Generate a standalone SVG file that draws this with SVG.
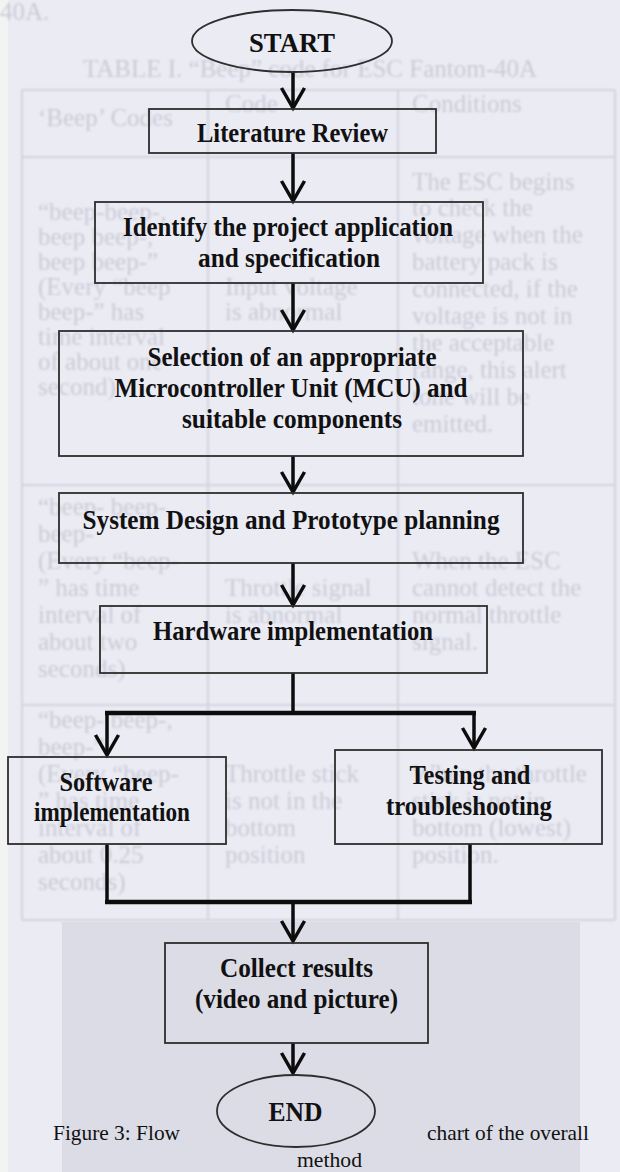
<svg xmlns="http://www.w3.org/2000/svg" width="620" height="1172" viewBox="0 0 620 1172">
  <style>
    .ghost { font-family: "Liberation Serif", "Times New Roman", serif; font-size: 25px; fill: #cbcbd7; }
    .grid { stroke: #d3d3de; stroke-width: 2; fill: none; }
    .box { fill: none; stroke: #2e2e2e; stroke-width: 1.8; }
    .lbl { font-family: "Liberation Serif", "Times New Roman", serif; font-size: 27px; font-weight: bold; fill: #111; text-anchor: middle; }
    .cap { font-family: "Liberation Serif", "Times New Roman", serif; font-size: 22px; fill: #111; }
    .wire { fill: none; stroke: #0c0c0c; stroke-width: 3.5; }
    .bar { fill: none; stroke: #0c0c0c; stroke-width: 4.5; }
  </style>
  <defs>
    <marker id="chev" viewBox="-24 -14 28 28" refX="0" refY="0" markerWidth="28" markerHeight="28" markerUnits="userSpaceOnUse" orient="auto">
      <path d="M-20,-11.5 L0,0 L-20,11.5" fill="none" stroke="#0c0c0c" stroke-width="3.5" stroke-linejoin="miter"/>
    </marker>
    <filter id="soft" x="-5%" y="-5%" width="110%" height="110%">
      <feGaussianBlur stdDeviation="0.9"/>
    </filter>
  </defs>

  <!-- page background -->
  <rect x="0" y="0" width="620" height="1172" fill="#ebebf4"/>
  <rect x="0" y="0" width="8" height="1172" fill="#f3f3f3"/>
  <rect x="62" y="922" width="518" height="250" fill="#dcdce6"/>

  <!-- faint table showing through the page -->
  <g id="backdrop-table" filter="url(#soft)">
    <text class="ghost" x="0" y="20" font-size="26">40A.</text>
    <text class="ghost" x="310" y="77" font-size="17" text-anchor="middle">TABLE I.  “Beep” code for ESC Fantom-40A</text>
    <path class="grid" d="M22,90 H615 M22,157 H615 M22,485 H615 M22,705 H615 M22,920 H615 M22,90 V920 M208,90 V920 M398,90 V920 M615,90 V920"/>
    <text class="ghost" x="38" y="126">‘Beep’ Codes</text>
    <text class="ghost" x="225" y="112">Code</text>
    <text class="ghost" x="412" y="112">Conditions</text>

    <text class="ghost" x="38" y="220">“beep-beep-,</text>
    <text class="ghost" x="38" y="245">beep beep-,</text>
    <text class="ghost" x="38" y="270">beep beep-”</text>
    <text class="ghost" x="38" y="295">(Every “beep</text>
    <text class="ghost" x="38" y="320">beep-” has</text>
    <text class="ghost" x="38" y="345">time interval</text>
    <text class="ghost" x="38" y="370">of about one</text>
    <text class="ghost" x="38" y="395">second)</text>
    <text class="ghost" x="225" y="295">Input voltage</text>
    <text class="ghost" x="225" y="320">is abnormal</text>
    <text class="ghost" x="412" y="190">The ESC begins</text>
    <text class="ghost" x="412" y="216">to check the</text>
    <text class="ghost" x="412" y="243">voltage when the</text>
    <text class="ghost" x="412" y="270">battery pack is</text>
    <text class="ghost" x="412" y="297">connected, if the</text>
    <text class="ghost" x="412" y="324">voltage is not in</text>
    <text class="ghost" x="412" y="351">the acceptable</text>
    <text class="ghost" x="412" y="378">range, this alert</text>
    <text class="ghost" x="412" y="405">tone will be</text>
    <text class="ghost" x="412" y="432">emitted.</text>

    <text class="ghost" x="38" y="515">“beep- beep-</text>
    <text class="ghost" x="38" y="542">beep-</text>
    <text class="ghost" x="38" y="569">(Every “beep-</text>
    <text class="ghost" x="38" y="596">” has time</text>
    <text class="ghost" x="38" y="623">interval of</text>
    <text class="ghost" x="38" y="650">about two</text>
    <text class="ghost" x="38" y="677">seconds)</text>
    <text class="ghost" x="225" y="596">Throttle signal</text>
    <text class="ghost" x="225" y="623">is abnormal</text>
    <text class="ghost" x="412" y="569">When the ESC</text>
    <text class="ghost" x="412" y="596">cannot detect the</text>
    <text class="ghost" x="412" y="623">normal throttle</text>
    <text class="ghost" x="412" y="650">signal.</text>

    <text class="ghost" x="38" y="728">“beep- beep-,</text>
    <text class="ghost" x="38" y="755">beep-”</text>
    <text class="ghost" x="38" y="782">(Every “beep-</text>
    <text class="ghost" x="38" y="809">” has time</text>
    <text class="ghost" x="38" y="836">interval of</text>
    <text class="ghost" x="38" y="863">about 0.25</text>
    <text class="ghost" x="38" y="890">seconds)</text>
    <text class="ghost" x="225" y="782">Throttle stick</text>
    <text class="ghost" x="225" y="809">is not in the</text>
    <text class="ghost" x="225" y="836">bottom</text>
    <text class="ghost" x="225" y="863">position</text>
    <text class="ghost" x="412" y="782">When the throttle</text>
    <text class="ghost" x="412" y="809">stick is not in</text>
    <text class="ghost" x="412" y="836">bottom (lowest)</text>
    <text class="ghost" x="412" y="863">position.</text>
  </g>

  <!-- connectors -->
  <g id="connectors">
    <path class="wire" d="M293,72 V108" marker-end="url(#chev)"/>
    <path class="wire" d="M293,153 V201" marker-end="url(#chev)"/>
    <path class="wire" d="M293,283 V330" marker-end="url(#chev)"/>
    <path class="wire" d="M293,456 V492" marker-end="url(#chev)"/>
    <path class="wire" d="M293,563 V605" marker-end="url(#chev)"/>
    <path class="wire" d="M293,673 V713"/>
    <path class="bar" d="M105,713 H476"/>
    <path class="wire" d="M107,713 V755" marker-end="url(#chev)"/>
    <path class="wire" d="M474,713 V748" marker-end="url(#chev)"/>
    <path class="wire" d="M107,844 V902"/>
    <path class="wire" d="M470,844 V902"/>
    <path class="bar" d="M105,902 H472"/>
    <path class="wire" d="M293,902 V941" marker-end="url(#chev)"/>
    <path class="wire" d="M293,1043 V1073" marker-end="url(#chev)"/>
  </g>

  <!-- flowchart steps -->
  <g id="start">
    <ellipse class="box" cx="292" cy="41" rx="100" ry="31"/>
    <text class="lbl" x="292" y="52" font-size="29" textLength="86" lengthAdjust="spacingAndGlyphs">START</text>
  </g>
  <g id="literature-review">
    <rect class="box" x="149" y="109" width="287" height="44"/>
    <text class="lbl" x="292.5" y="142" textLength="191" lengthAdjust="spacingAndGlyphs">Literature Review</text>
  </g>
  <g id="identify-application">
    <rect class="box" x="95" y="202" width="388" height="81"/>
    <text class="lbl" x="288" y="236" textLength="330" lengthAdjust="spacingAndGlyphs">Identify the project application</text>
    <text class="lbl" x="289" y="267" textLength="182" lengthAdjust="spacingAndGlyphs">and specification</text>
  </g>
  <g id="select-mcu">
    <rect class="box" x="59" y="331" width="464" height="125"/>
    <text class="lbl" x="292" y="366" textLength="289" lengthAdjust="spacingAndGlyphs">Selection of an appropriate</text>
    <text class="lbl" x="291" y="397" textLength="353" lengthAdjust="spacingAndGlyphs">Microcontroller Unit (MCU) and</text>
    <text class="lbl" x="292" y="428" textLength="220" lengthAdjust="spacingAndGlyphs">suitable components</text>
  </g>
  <g id="system-design">
    <rect class="box" x="59" y="493" width="464" height="70"/>
    <text class="lbl" x="291" y="529" textLength="417" lengthAdjust="spacingAndGlyphs">System Design and Prototype planning</text>
  </g>
  <g id="hardware">
    <rect class="box" x="100" y="606" width="387" height="67"/>
    <text class="lbl" x="293" y="640" textLength="280" lengthAdjust="spacingAndGlyphs">Hardware implementation</text>
  </g>
  <g id="software">
    <rect class="box" x="8" y="757" width="218" height="87"/>
    <text class="lbl" x="106" y="791" textLength="93" lengthAdjust="spacingAndGlyphs">Software</text>
    <text class="lbl" x="112" y="821" textLength="156" lengthAdjust="spacingAndGlyphs">implementation</text>
  </g>
  <g id="testing">
    <rect class="box" x="335" y="750" width="267" height="94"/>
    <text class="lbl" x="470" y="784" textLength="121" lengthAdjust="spacingAndGlyphs">Testing and</text>
    <text class="lbl" x="469" y="815" textLength="166" lengthAdjust="spacingAndGlyphs">troubleshooting</text>
  </g>
  <g id="collect-results">
    <rect class="box" x="165" y="943" width="263" height="100"/>
    <text class="lbl" x="296.5" y="977" textLength="153" lengthAdjust="spacingAndGlyphs">Collect results</text>
    <text class="lbl" x="296.5" y="1008" textLength="203" lengthAdjust="spacingAndGlyphs">(video and picture)</text>
  </g>
  <g id="end">
    <ellipse class="box" cx="296" cy="1111" rx="79" ry="36"/>
    <text class="lbl" x="295.5" y="1121" font-size="28" font-weight="normal" textLength="54" lengthAdjust="spacingAndGlyphs">END</text>
  </g>

  <!-- figure caption -->
  <g id="caption">
    <text class="cap" x="53" y="1140" textLength="127" lengthAdjust="spacingAndGlyphs">Figure 3: Flow</text>
    <text class="cap" x="427" y="1140" textLength="162" lengthAdjust="spacingAndGlyphs">chart of the overall</text>
    <text class="cap" x="297" y="1167" textLength="65" lengthAdjust="spacingAndGlyphs">method</text>
  </g>
</svg>
